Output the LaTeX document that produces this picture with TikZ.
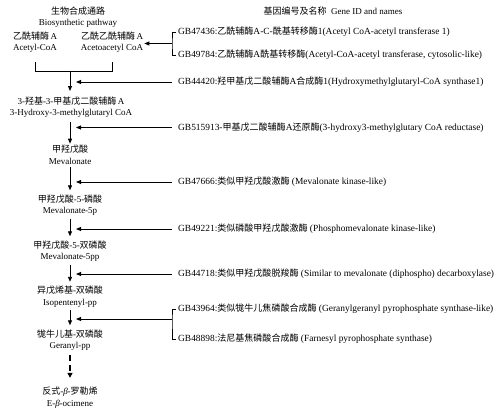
\documentclass[tikz,border=0pt]{standalone}
\usepackage{fontspec}
\setmainfont{Liberation Serif}
\newfontfamily\cjk{Noto Sans CJK SC}
\newfontfamily\cjke[Scale=0.96]{Noto Sans CJK SC}
\newcommand\zh[1]{{\cjk #1}}
\newcommand\ze[1]{{\cjke #1}}
\usetikzlibrary{arrows.meta}
\begin{document}
\begin{tikzpicture}[x=1pt,y=-1pt,
  txt/.style={font=\fontsize{9}{11.5}\selectfont, inner sep=1pt},
  cmpd/.style={txt, align=center},
  enz/.style={font=\fontsize{9.4}{11.5}\selectfont, anchor=west, inner sep=0pt},
  ln/.style={line width=0.9pt},
  arr/.style={ln, -{Triangle[length=5pt,width=4pt]}},
  darr/.style={line width=2pt, dash pattern=on 6pt off 4pt, -{Triangle[length=5pt,width=5pt]}}]
\useasboundingbox[fill=white] (0,0) rectangle (498,412);

% headers
\node[cmpd] (title) at (78,17) {\zh{生物合成通路}\\Biosynthetic pathway};
\node[txt] (header) at (333,11) {\zh{基因编号及名称}\ \ Gene ID and names};

% compounds
\node[cmpd] (acetyl) at (35,42) {\zh{乙酰辅酶}\,A\\Acetyl-CoA};
\node[cmpd] (acetoacetyl) at (112,42) {\zh{乙酰乙酰辅酶}\,A\\Acetoacetyl CoA};
\node[cmpd] (hmg) at (71,107) {3-\zh{羟基}-3-\zh{甲基戊二酸辅酶}\,A\\3-Hydroxy-3-methylglutaryl CoA};
\node[cmpd] (mva) at (70,154.5) {\zh{甲羟戊酸}\\Mevalonate};
\node[cmpd] (mva5p) at (70,205) {\zh{甲羟戊酸}-5-\zh{磷酸}\\Mevalonate-5p};
\node[cmpd] (mva5pp) at (70,251) {\zh{甲羟戊酸}-5-\zh{双磷酸}\\Mevalonate-5pp};
\node[cmpd] (ipp) at (70,296.5) {\zh{异戊烯基}-\zh{双磷酸}\\Isopentenyl-pp};
\node[cmpd] (gpp) at (70,340) {\zh{牻牛儿基}-\zh{双磷酸}\\Geranyl-pp};
\node[cmpd] (ocimene) at (70,397.5) {\zh{反式}-\textit{β}-\zh{罗勒烯}\\E-\textit{β}-ocimene};

% enzymes
\node[enz] (e1) at (178,32) {GB47436:\ze{乙酰辅酶}A-C-\ze{酰基转移酶}1(Acetyl CoA-acetyl transferase 1)};
\node[enz] (e2) at (178,55) {GB49784:\ze{乙酰辅酶}A\ze{酰基转移酶}(Acetyl-CoA-acetyl transferase, cytosolic-like)};
\node[enz] (e3) at (178,82) {GB44420:\ze{羟甲基戊二酸辅酶}A\ze{合成酶}1(Hydroxymethylglutaryl-CoA synthase1)};
\node[enz] (e4) at (178,127.5) {GB515913-\ze{甲基戊二酸辅酶}A\ze{还原酶}(3-hydroxy3-methylglutary CoA reductase)};
\node[enz] (e5) at (178,182) {GB47666:\ze{类似甲羟戊酸激酶} (Mevalonate kinase-like)};
\node[enz] (e6) at (178,229) {GB49221:\ze{类似磷酸甲羟戊酸激酶} (Phosphomevalonate kinase-like)};
\node[enz] (e7) at (178,274) {GB44718:\ze{类似甲羟戊酸脱羧酶} (Similar to mevalonate (diphospho) decarboxylase)};
\node[enz] (e8) at (178,309) {GB43964:\ze{类似牻牛儿焦磷酸合成酶} (Geranylgeranyl pyrophosphate synthase-like)};
\node[enz] (e9) at (178,339) {GB48898:\ze{法尼基焦磷酸合成酶} (Farnesyl pyrophosphate synthase)};

% coordinates
\coordinate (b1) at (172,43.5);
\coordinate (b2) at (172,319);
\coordinate (bc) at (70,71);
\coordinate (t3) at (76,82);
\coordinate (t4) at (76,127.5);
\coordinate (t5) at (76,182);
\coordinate (t6) at (76,229);
\coordinate (t7) at (76,274);
\coordinate (t8) at (76,319);

% bracket under acetyl / acetoacetyl
\draw[ln] (acetyl.south |- 0,62) -- (acetyl.south |- bc) -- (acetoacetyl.south |- bc) -- (acetoacetyl.south |- 0,62);

% vertical pathway arrows
\draw[arr] (bc) -- (70,91);
\draw[arr] (70,122) -- (mva.north);
\draw[arr, shorten <=2pt, shorten >=3pt] (mva.south) -- (mva5p.north);
\draw[arr, shorten <=2pt, shorten >=3pt] (mva5p.south) -- (mva5pp.north);
\draw[arr, shorten <=2pt, shorten >=3pt] (mva5pp.south) -- (ipp.north);
\draw[arr, shorten <=2pt, shorten >=3pt] (ipp.south) -- (gpp.north);
\draw[darr, shorten <=3pt, shorten >=8pt] (gpp.south) -- (ocimene.north);

% enzyme braces and arrows
\draw[ln] ([xshift=-2pt]e1.west) -| (b1) |- ([xshift=-2pt]e2.west);
\draw[arr] (b1) -- (b1 -| acetoacetyl.east);
\draw[arr, shorten <=6pt] (e3.west) -- (t3);
\draw[arr, shorten <=6pt] (e4.west) -- (t4);
\draw[arr, shorten <=6pt] (e5.west) -- (t5);
\draw[arr, shorten <=6pt] (e6.west) -- (t6);
\draw[arr, shorten <=6pt] (e7.west) -- (t7);
\draw[ln] ([xshift=-2pt]e8.west) -| (b2) |- ([xshift=-2pt]e9.west);
\draw[arr] (b2) -- (t8);
\end{tikzpicture}
\end{document}
